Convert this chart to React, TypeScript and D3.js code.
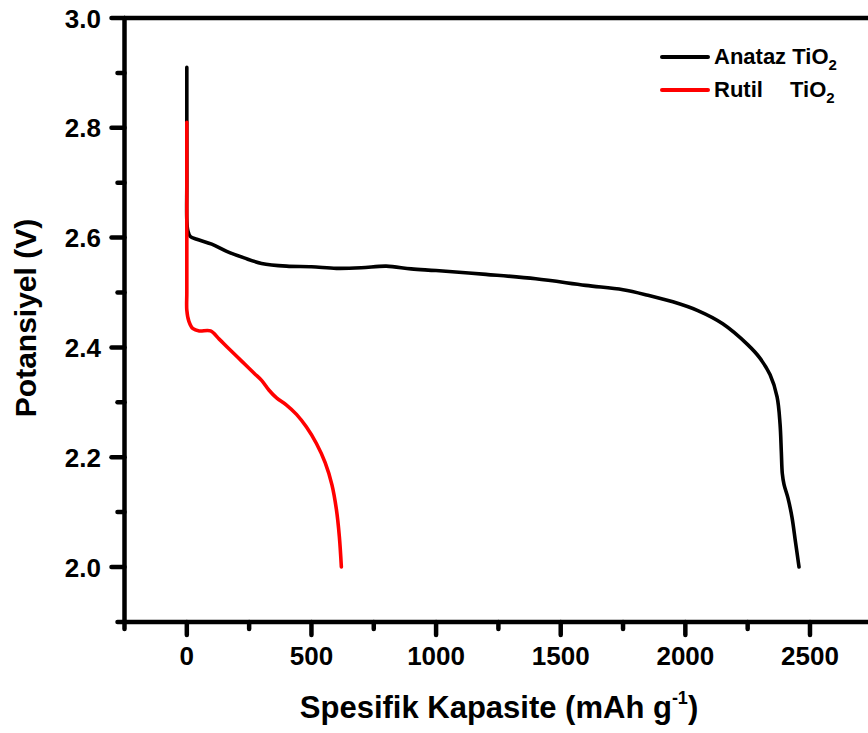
import React from "react";
import * as d3 from "d3";

const anatazX = [0, 0, 0, 0, 4, 14, 40, 100, 160, 230, 300, 400, 500, 600, 700, 800, 900, 1000, 1200, 1400, 1600, 1750, 1850, 1950, 2050, 2150, 2250, 2300, 2340, 2368, 2380, 2385, 2389, 2396, 2412, 2428, 2442, 2456];
const anatazY = [2.91, 2.81, 2.70, 2.632, 2.613, 2.602, 2.597, 2.588, 2.575, 2.563, 2.553, 2.548, 2.547, 2.544, 2.545, 2.548, 2.543, 2.540, 2.533, 2.525, 2.513, 2.505, 2.495, 2.483, 2.467, 2.443, 2.405, 2.38, 2.35, 2.31, 2.26, 2.21, 2.17, 2.15, 2.125, 2.09, 2.045, 2.0];

const rutilX = [0, 0, 0, 0, 8, 25, 50, 95, 130, 170, 220, 270, 300, 330, 360, 400, 440, 480, 520, 555, 582, 600, 612, 620];
const rutilY = [2.81, 2.6, 2.5, 2.468, 2.448, 2.434, 2.430, 2.430, 2.415, 2.397, 2.375, 2.353, 2.340, 2.322, 2.308, 2.295, 2.278, 2.255, 2.225, 2.19, 2.15, 2.105, 2.055, 2.0];

const xMajor = [0, 500, 1000, 1500, 2000, 2500];
const xMinor = [-250, 250, 750, 1250, 1750, 2250, 2750];
const yMajor = [2.0, 2.2, 2.4, 2.6, 2.8, 3.0];
const yMinor = [1.9, 2.1, 2.3, 2.5, 2.7, 2.9];

const FONT = "'Liberation Sans', Arial, sans-serif";

export default function App() {
  const x = d3.scaleLinear().domain([-250, 2750]).range([124.5, 872.3]);
  const y = d3.scaleLinear().domain([1.9, 3.0]).range([621.9, 18]);

  const line = d3
    .line<[number, number]>()
    .x((d) => x(d[0]))
    .y((d) => y(d[1]))
    .curve(d3.curveCatmullRom.alpha(0.5));

  const anataz: [number, number][] = anatazX.map((v, i) => [v, anatazY[i]]);
  const rutil: [number, number][] = rutilX.map((v, i) => [v, rutilY[i]]);

  const x0 = x(-250);
  const x1 = x(2750);
  const y0 = y(1.9);
  const y1 = y(3.0);

  return (
    <svg
      width={868}
      height={733}
      style={{ position: "absolute", left: 0, top: 0, background: "#fff" }}
    >
      <rect x={0} y={0} width={868} height={733} fill="#fff" />
      {/* data */}
      <path d={line(anataz) || ""} fill="none" stroke="#000" strokeWidth={3.6} strokeLinejoin="round" strokeLinecap="round" />
      <path d={line(rutil) || ""} fill="none" stroke="#ff0000" strokeWidth={3.6} strokeLinejoin="round" strokeLinecap="round" />

      {/* frame */}
      <g stroke="#000" strokeWidth={4.5} strokeLinecap="round" fill="none">
        <line x1={x0} y1={y0} x2={x1} y2={y0} />
        <line x1={x0} y1={y1} x2={x1} y2={y1} />
        <line x1={x0} y1={y0} x2={x0} y2={y1} />
        <line x1={x1} y1={y0} x2={x1} y2={y1} />
        {xMajor.map((v) => (
          <line key={"xm" + v} x1={x(v)} x2={x(v)} y1={y0} y2={y0 + 13} />
        ))}
        {xMinor.map((v) => (
          <line key={"xn" + v} x1={x(v)} x2={x(v)} y1={y0} y2={y0 + 7} />
        ))}
        {yMajor.map((v) => (
          <line key={"ym" + v} x1={x0 - 13} x2={x0} y1={y(v)} y2={y(v)} />
        ))}
        {yMinor.map((v) => (
          <line key={"yn" + v} x1={x0 - 7} x2={x0} y1={y(v)} y2={y(v)} />
        ))}
      </g>

      {/* tick labels */}
      <g fontFamily={FONT} fontWeight="bold" fontSize={26} fill="#000">
        {xMajor.map((v) => (
          <text key={"xl" + v} x={x(v)} y={665} textAnchor="middle">
            {String(v)}
          </text>
        ))}
        {yMajor.map((v) => (
          <text key={"yl" + v} x={101} y={y(v) + 9.5} textAnchor="end">
            {v.toFixed(1)}
          </text>
        ))}
      </g>

      {/* axis titles */}
      <text x={499} y={718} textAnchor="middle" fontFamily={FONT} fontWeight="bold" fontSize={31} fill="#000">
        Spesifik Kapasite (mAh g
        <tspan fontSize={18} dy={-14}>-1</tspan>
        <tspan dy={14}>)</tspan>
      </text>
      <text
        transform="translate(36,318) rotate(-90)"
        textAnchor="middle"
        fontFamily={FONT}
        fontWeight="bold"
        fontSize={30}
        fill="#000"
      >
        Potansiyel (V)
      </text>

      {/* legend */}
      <g fontFamily={FONT} fontWeight="bold" fontSize={22} fill="#000">
        <line x1={662} x2={708} y1={57} y2={57} stroke="#000" strokeWidth={4} strokeLinecap="round" />
        <text x={714} y={64}>
          Anataz TiO<tspan fontSize={15} dy={6}>2</tspan>
        </text>
        <line x1={662} x2={708} y1={90} y2={90} stroke="#ff0000" strokeWidth={4} strokeLinecap="round" />
        <text x={714} y={97}>Rutil</text>
        <text x={790} y={97}>
          TiO<tspan fontSize={15} dy={6}>2</tspan>
        </text>
      </g>
    </svg>
  );
}
